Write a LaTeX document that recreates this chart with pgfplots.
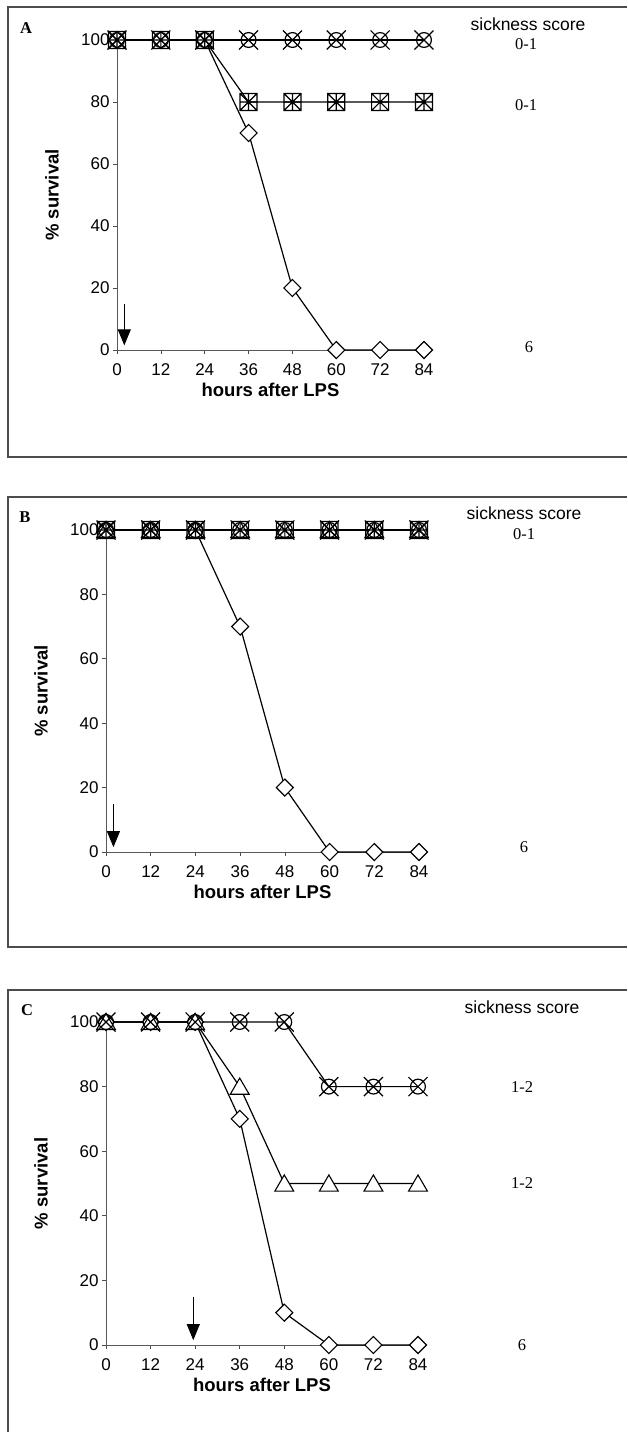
\documentclass[border=0pt]{standalone}
\usepackage{fontspec}
\setmainfont{Liberation Serif}
\setsansfont{Liberation Sans}
\usepackage{pgfplots}
\pgfplotsset{compat=1.18}
\usetikzlibrary{arrows.meta}

\pgfdeclareplotmark{mdiamond}{%
 \pgfpathmoveto{\pgfqpoint{0pt}{\pgfplotmarksize}}%
 \pgfpathlineto{\pgfqpoint{\pgfplotmarksize}{0pt}}%
 \pgfpathlineto{\pgfqpoint{0pt}{-\pgfplotmarksize}}%
 \pgfpathlineto{\pgfqpoint{-\pgfplotmarksize}{0pt}}%
 \pgfpathclose\pgfusepathqfillstroke}
\pgfdeclareplotmark{ocross}{%
 \pgfpathcircle{\pgfpointorigin}{0.78\pgfplotmarksize}%
 \pgfpathmoveto{\pgfqpoint{-\pgfplotmarksize}{-\pgfplotmarksize}}%
 \pgfpathlineto{\pgfqpoint{\pgfplotmarksize}{\pgfplotmarksize}}%
 \pgfpathmoveto{\pgfqpoint{-\pgfplotmarksize}{\pgfplotmarksize}}%
 \pgfpathlineto{\pgfqpoint{\pgfplotmarksize}{-\pgfplotmarksize}}%
 \pgfusepathqstroke}
\pgfdeclareplotmark{sqstar}{%
 \pgfpathrectangle{\pgfqpoint{-0.85\pgfplotmarksize}{-0.85\pgfplotmarksize}}{\pgfqpoint{1.7\pgfplotmarksize}{1.7\pgfplotmarksize}}%
 \pgfpathmoveto{\pgfqpoint{-0.85\pgfplotmarksize}{-0.85\pgfplotmarksize}}%
 \pgfpathlineto{\pgfqpoint{0.85\pgfplotmarksize}{0.85\pgfplotmarksize}}%
 \pgfpathmoveto{\pgfqpoint{-0.85\pgfplotmarksize}{0.85\pgfplotmarksize}}%
 \pgfpathlineto{\pgfqpoint{0.85\pgfplotmarksize}{-0.85\pgfplotmarksize}}%
 \pgfpathmoveto{\pgfqpoint{0pt}{-0.85\pgfplotmarksize}}%
 \pgfpathlineto{\pgfqpoint{0pt}{0.85\pgfplotmarksize}}%
 \pgfpathmoveto{\pgfqpoint{-0.85\pgfplotmarksize}{0pt}}%
 \pgfpathlineto{\pgfqpoint{0.85\pgfplotmarksize}{0pt}}%
 \pgfusepathqstroke}
\pgfdeclareplotmark{otri}{%
 \pgfpathmoveto{\pgfqpoint{0pt}{0.95\pgfplotmarksize}}%
 \pgfpathlineto{\pgfqpoint{1.05\pgfplotmarksize}{-0.85\pgfplotmarksize}}%
 \pgfpathlineto{\pgfqpoint{-1.05\pgfplotmarksize}{-0.85\pgfplotmarksize}}%
 \pgfpathclose\pgfusepathqfillstroke}

\pgfplotsset{
 panel/.style={
  scale only axis, clip=false,
  xmin=0, xmax=84, ymin=0, ymax=100,
  axis x line*=bottom, axis y line*=left,
  axis line style={-, line width=0.7pt, black!65},
  xtick={0,12,...,84}, ytick={0,20,...,100},
  tick align=outside, major tick length=4pt,
  tick style={black!70, line width=0.7pt},
  ticklabel style={font=\sffamily\fontsize{17}{18}\selectfont},
  xticklabel style={yshift=-6pt},
  /pgf/number format/assume math mode=true,
  xlabel={hours after LPS}, ylabel={\% survival},
  every axis x label/.style={at={(axis description cs:0.5,0)}, anchor=center, yshift=-40pt, font=\sffamily\bfseries\fontsize{18.5}{19}\selectfont},
  every axis y label/.style={at={(axis description cs:0,0.5)}, rotate=90, anchor=center, yshift=65pt, font=\sffamily\bfseries\fontsize{18.5}{19}\selectfont},
 },
 dia/.style={black, line width=1.2pt, mark=mdiamond, mark size=8.5pt, mark options={solid, fill=white, line width=1.1pt}},
 ocr/.style={black, line width=1.2pt, mark=ocross, mark size=9.5pt, mark options={solid, line width=1.2pt}},
 sqs/.style={black, line width=1.2pt, mark=sqstar, mark size=10pt, mark options={solid, line width=1.2pt}},
 tri/.style={black, line width=1.2pt, mark=otri, mark size=9pt, mark options={solid, fill=white, line width=1.1pt}},
}
\tikzset{
 lbl/.style={font=\fontsize{16.5}{17}\selectfont},
 ssc/.style={font=\sffamily\fontsize{17.5}{18}\selectfont},
 plet/.style={font=\bfseries\fontsize{16.5}{17}\selectfont},
}

\begin{document}
\begin{tikzpicture}
\useasboundingbox (0pt,0pt) rectangle (627pt,-1432pt);
% panel frames
\draw[black!70, line width=1.2pt] (627pt,-7pt) -- (8pt,-7pt) -- (8pt,-457pt) -- (627pt,-457pt);
\draw[black!70, line width=1.2pt] (627pt,-497pt) -- (8pt,-497pt) -- (8pt,-947pt) -- (627pt,-947pt);
\draw[black!70, line width=1.2pt] (627pt,-990pt) -- (8pt,-990pt) -- (8pt,-1432pt);

% ---------------- Panel A ----------------
\begin{axis}[panel, at={(117pt,-350pt)}, anchor=south west, width=307pt, height=310pt]
\addplot[dia] coordinates {(0,100)(12,100)(24,100)(36,70)(48,20)(60,0)(72,0)(84,0)};
\addplot[sqs] coordinates {(0,100)(12,100)(24,100)(36,80)(48,80)(60,80)(72,80)(84,80)};
\addplot[ocr] coordinates {(0,100)(12,100)(24,100)(36,100)(48,100)(60,100)(72,100)(84,100)};
\draw[line width=1pt, -{Triangle[width=13pt,length=16pt]}] (axis cs:2,15) -- (axis cs:2,1.5);
\end{axis}
\node[plet] at (26pt,-28pt) {A};
\node[ssc] at (528pt,-24pt) {sickness score};
\node[lbl] at (526pt,-44pt) {0-1};
\node[lbl] at (526pt,-105pt) {0-1};
\node[lbl] at (529pt,-347pt) {6};

% ---------------- Panel B ----------------
\begin{axis}[panel, at={(106pt,-852pt)}, anchor=south west, width=313pt, height=322pt]
\addplot[dia] coordinates {(0,100)(12,100)(24,100)(36,70)(48,20)(60,0)(72,0)(84,0)};
\addplot[tri] coordinates {(0,100)(12,100)(24,100)(36,100)(48,100)(60,100)(72,100)(84,100)};
\addplot[sqs] coordinates {(0,100)(12,100)(24,100)(36,100)(48,100)(60,100)(72,100)(84,100)};
\addplot[ocr] coordinates {(0,100)(12,100)(24,100)(36,100)(48,100)(60,100)(72,100)(84,100)};
\draw[line width=1pt, -{Triangle[width=13pt,length=16pt]}] (axis cs:2,15) -- (axis cs:2,1.5);
\end{axis}
\node[plet] at (25pt,-517pt) {B};
\node[ssc] at (524pt,-513pt) {sickness score};
\node[lbl] at (524pt,-534pt) {0-1};
\node[lbl] at (524pt,-847pt) {6};

% ---------------- Panel C ----------------
\begin{axis}[panel, at={(106pt,-1345pt)}, anchor=south west, width=312pt, height=323pt]
\addplot[dia] coordinates {(0,100)(12,100)(24,100)(36,70)(48,10)(60,0)(72,0)(84,0)};
\addplot[tri] coordinates {(0,100)(12,100)(24,100)(36,80)(48,50)(60,50)(72,50)(84,50)};
\addplot[ocr] coordinates {(0,100)(12,100)(24,100)(36,100)(48,100)(60,80)(72,80)(84,80)};
\draw[line width=1pt, -{Triangle[width=13pt,length=16pt]}] (axis cs:23.5,15) -- (axis cs:23.5,1.5);
\end{axis}
\node[plet] at (27pt,-1010pt) {C};
\node[ssc] at (522pt,-1007pt) {sickness score};
\node[lbl] at (522pt,-1087pt) {1-2};
\node[lbl] at (522pt,-1183pt) {1-2};
\node[lbl] at (522pt,-1345pt) {6};
\end{tikzpicture}
\end{document}
